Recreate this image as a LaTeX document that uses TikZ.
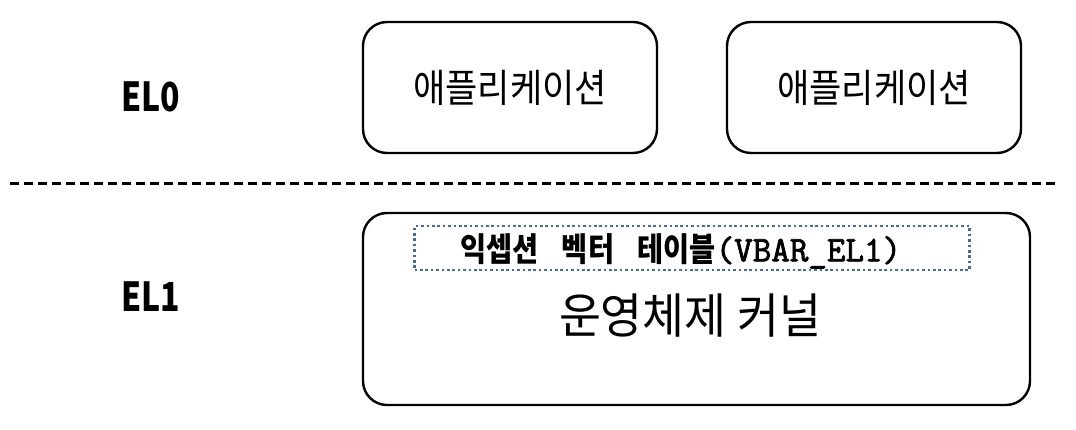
\documentclass[tikz,border=0pt]{standalone}
\usepackage{fontspec}
\setmainfont{Noto Sans CJK KR}
\newfontfamily\kr{Noto Sans CJK KR}
\newfontfamily\courb{Latin Modern Mono}[FakeBold=2.2]
\definecolor{dotblue}{RGB}{75,105,150}
\newcommand{\sqz}[2]{\scalebox{#1}[1]{#2}}
\begin{document}
\begin{tikzpicture}[x=1pt,y=-1pt,
  rbox/.style={draw=black,line width=2.4pt,rounded corners=24pt,inner sep=0pt},
  lvl/.style={font=\kr\bfseries\fontsize{40}{42}\selectfont},
  apptext/.style={font=\kr\fontsize{39}{41}\selectfont}]
\useasboundingbox (0,0) rectangle (1076,430);
\node[rbox,minimum width=294pt,minimum height=131pt,apptext] (app1) at (510,87.5) {\sqz{0.9}{애플리케이션}};
\node[rbox,minimum width=294pt,minimum height=131pt,apptext] (app2) at (874,87.5) {\sqz{0.9}{애플리케이션}};
\coordinate (dl) at (10,184);
\coordinate (dr) at (1056,184);
\draw[line width=3pt,dash pattern=on 9pt off 5pt] (dl) -- (dr);
\node[lvl] (el0) at (151,97) {\sqz{0.8}{EL0}};
\node[lvl] (el1) at (151,297) {\sqz{0.8}{EL1}};
\node[rbox,minimum width=667pt,minimum height=192pt] (kern) at (696.5,309) {};
\node[draw=dotblue,line width=2.6pt,dash pattern=on 2.6pt off 2.8pt,minimum width=555pt,minimum height=44pt,inner sep=0pt] (vt) at (692,248) {};
\node[anchor=base west,inner sep=0pt,font=\kr\bfseries\fontsize{33}{35}\selectfont] (vtxt) at ([xshift=47pt,yshift=10pt]vt.south west) {\sqz{0.86}{익셉션\hspace{27pt}벡터\hspace{27pt}테이블}\sqz{1.0}{\courb\fontsize{36}{38}\selectfont(VBAR\_EL1)}};
\node[font=\kr\fontsize{48}{50}\selectfont] (ktxt) at (690,316) {\sqz{0.95}{운영체제 커널}};
\end{tikzpicture}
\end{document}
